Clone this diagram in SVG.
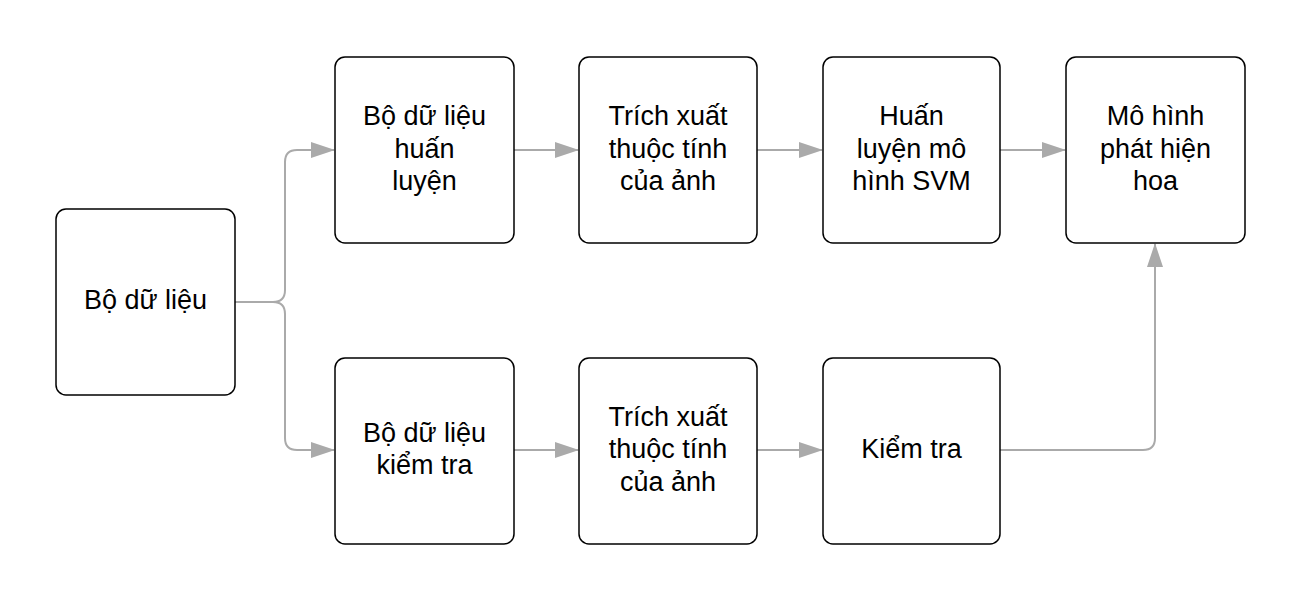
<svg xmlns="http://www.w3.org/2000/svg" width="1304" height="601" viewBox="0 0 1304 601">
<style>
.box{fill:#ffffff;stroke:#000000;stroke-width:1.5}
.lbl{font-family:"Liberation Sans",Arial,sans-serif;font-size:27px;fill:#000000;text-anchor:middle}
.con{fill:none;stroke:#aaaaaa;stroke-width:2}
</style>
<defs>
<marker id="arr" markerUnits="userSpaceOnUse" markerWidth="24" markerHeight="16" refX="23" refY="8" orient="auto" viewBox="0 0 24 16">
<path d="M0,0 L24,8 L0,16 Z" fill="#aaaaaa"/>
</marker>
</defs>
<rect width="1304" height="601" fill="#ffffff"/>
<g id="connectors">
<path class="con" d="M235,302 H273 Q285,302 285,290 V162 Q285,150 297,150 H334" marker-end="url(#arr)"/>
<path class="con" d="M235,302 H273 Q285,302 285,314 V438 Q285,450 297,450 H334" marker-end="url(#arr)"/>
<path class="con" d="M514,150 H578" marker-end="url(#arr)"/>
<path class="con" d="M757,150 H822" marker-end="url(#arr)"/>
<path class="con" d="M1000,150 H1065" marker-end="url(#arr)"/>
<path class="con" d="M514,450 H578" marker-end="url(#arr)"/>
<path class="con" d="M757,450 H822" marker-end="url(#arr)"/>
<path class="con" d="M1000,450 H1143 Q1155,450 1155,438 V244" marker-end="url(#arr)"/>
</g>
<g id="n-dataset">
<rect class="box" x="56" y="209" width="179" height="186" rx="10"/>
<text class="lbl" x="145.5" y="309">Bộ dữ liệu</text>
</g>
<g id="n-train">
<rect class="box" x="335" y="57" width="179" height="186" rx="10"/>
<text class="lbl" x="424.5" y="125">Bộ dữ liệu</text>
<text class="lbl" x="424.5" y="157.5">huấn</text>
<text class="lbl" x="424.5" y="190">luyện</text>
</g>
<g id="n-feat1">
<rect class="box" x="579" y="57" width="178" height="186" rx="10"/>
<text class="lbl" x="668" y="125">Trích xuất</text>
<text class="lbl" x="668" y="157.5">thuộc tính</text>
<text class="lbl" x="668" y="190">của ảnh</text>
</g>
<g id="n-svm">
<rect class="box" x="823" y="57" width="177" height="186" rx="10"/>
<text class="lbl" x="911.5" y="125">Huấn</text>
<text class="lbl" x="911.5" y="157.5">luyện mô</text>
<text class="lbl" x="911.5" y="190">hình SVM</text>
</g>
<g id="n-model">
<rect class="box" x="1066" y="57" width="179" height="186" rx="10"/>
<text class="lbl" x="1155.5" y="125">Mô hình</text>
<text class="lbl" x="1155.5" y="157.5">phát hiện</text>
<text class="lbl" x="1155.5" y="190">hoa</text>
</g>
<g id="n-test">
<rect class="box" x="335" y="358" width="179" height="186" rx="10"/>
<text class="lbl" x="424.5" y="441.5">Bộ dữ liệu</text>
<text class="lbl" x="424.5" y="474">kiểm tra</text>
</g>
<g id="n-feat2">
<rect class="box" x="579" y="358" width="178" height="186" rx="10"/>
<text class="lbl" x="668" y="425.5">Trích xuất</text>
<text class="lbl" x="668" y="458">thuộc tính</text>
<text class="lbl" x="668" y="490.5">của ảnh</text>
</g>
<g id="n-check">
<rect class="box" x="823" y="358" width="177" height="186" rx="10"/>
<text class="lbl" x="911.5" y="458">Kiểm tra</text>
</g>
</svg>
